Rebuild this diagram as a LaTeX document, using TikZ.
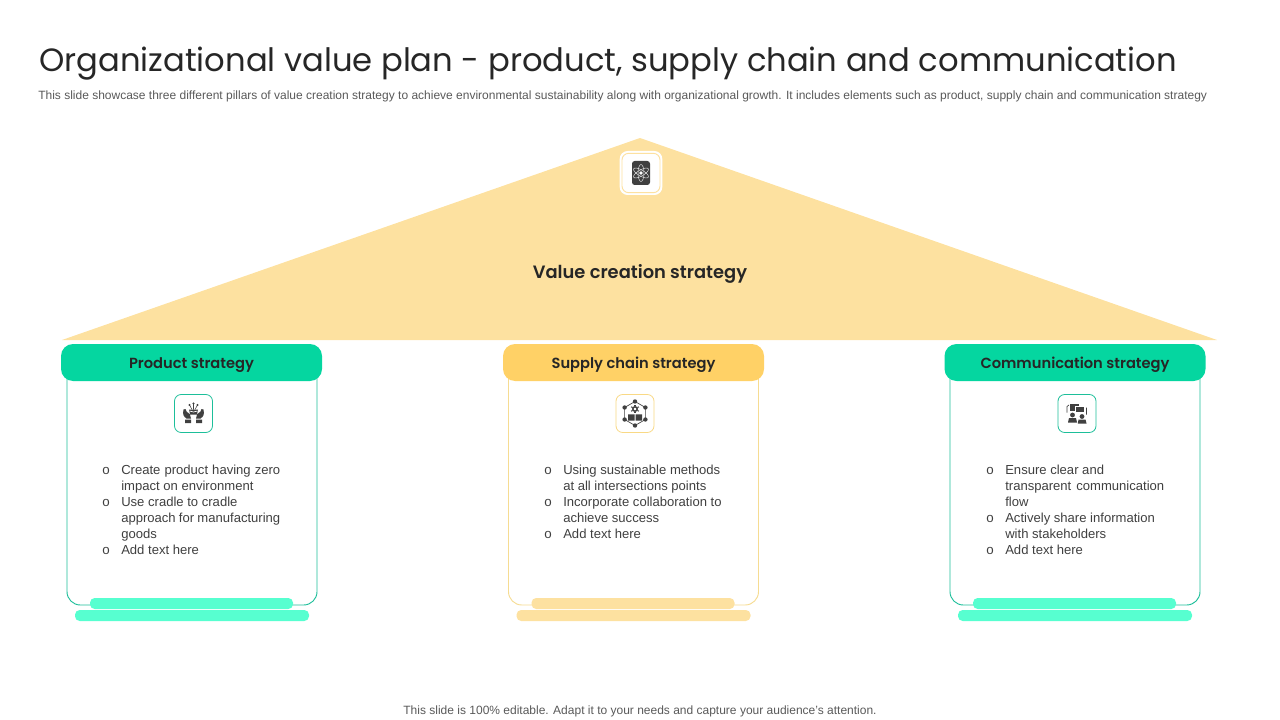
\documentclass[tikz,border=0pt]{standalone}
\usepackage{fontspec}
\setmainfont{Liberation Sans}
\newfontfamily\headfont{Poppins}
\newfontfamily\headsemi{Poppins SemiBold}
\usetikzlibrary{calc}
\definecolor{roofyellow}{HTML}{FDE1A0}
\definecolor{headgreen}{HTML}{05D6A0}
\definecolor{headyellow}{HTML}{FFD166}
\definecolor{barmint}{HTML}{57FFD0}
\definecolor{linegreen}{HTML}{1DBF9A}
\definecolor{lineyellow}{HTML}{F6DC92}
\definecolor{icongray}{HTML}{404040}
\definecolor{inkdark}{HTML}{262626}
\definecolor{inkgray}{HTML}{595959}
\newcommand{\fullline}[1]{\makebox[119.25pt][s]{#1}}
\tikzset{
  head/.style={rounded corners=9pt, minimum width=195.75pt, minimum height=27.75pt, inner sep=0pt},
  headtext/.style={inner sep=0pt, font=\headsemi\fontsize{11}{13}\selectfont, text=inkdark},
  card/.style={rounded corners=10pt, fill=white, line width=0.7pt},
  bar/.style={rounded corners=3.5pt},
  iconbox/.style={rounded corners=5pt, fill=white, line width=0.6pt, minimum width=28.5pt, minimum height=28.5pt, inner sep=0pt},
  points/.style={anchor=north west, inner sep=0pt, align=left, font=\fontsize{9.8}{12}\selectfont, text=icongray},
  dot/.style={anchor=base, inner sep=0pt, font=\fontsize{10}{12}\selectfont, text=icongray},
}
\begin{document}
\begin{tikzpicture}[x=0.75pt, y=-0.75pt]
\useasboundingbox (0,0) rectangle (1280,720);
% title
\node[anchor=base west, inner sep=0pt, text=inkdark, font=\headfont\fontsize{24.16}{30}\selectfont] (title) at (39,72) {Organizational value plan - product, supply chain and communication};
\node[anchor=base west, inner sep=0pt, text=inkgray, font=\fontsize{9}{10}\selectfont] (subtitle) at (38,100) {This slide showcase three different pillars of value creation strategy to achieve environmental sustainability along with organizational growth. It includes elements such as product, supply chain and communication strategy};
% roof
\fill[roofyellow] (62,340) -- (640,138) -- (1217,340) -- cycle;
\node[font=\headsemi\fontsize{13.4}{16}\selectfont, text=inkdark] (roof) at (640,274) {Value creation strategy};
\node[rounded corners=6pt, fill=white, minimum width=32pt, minimum height=33pt, inner sep=0pt] (atombox) at (641,173) {};
\node[rounded corners=5pt, draw=roofyellow, line width=0.7pt, minimum width=28.5pt, minimum height=29.5pt, inner sep=0pt] (atomline) at (641,173) {};
\node[rounded corners=2pt, fill=icongray, minimum width=13.5pt, minimum height=18pt, inner sep=0pt] (atom) at (641,173) {};
\foreach \ang in {30,90,150}
  \draw[white!85!icongray, line width=0.35pt, rotate around={\ang:(atom.center)}] (atom.center) ellipse (8.5 and 3);
\fill[white] (atom.center) circle (1.8);
% pillars
\foreach \px/\wx/\fillc/\linec/\barc/\nm/\lbl in {191.5/192/headgreen/linegreen/barmint/prodhead/Product strategy, 633.5/633.5/headyellow/lineyellow/roofyellow/supplyhead/Supply chain strategy, 1075/1075/headgreen/linegreen/barmint/commhead/Communication strategy}{
  \draw[card, draw=\linec] (\wx-125,360) rectangle (\wx+125,605);
  \fill[bar, \barc] (\wx-102,598) rectangle (\wx+101,609);
  \fill[bar, \barc] (\wx-117,610) rectangle (\wx+117,621);
  \node[head, fill=\fillc] (\nm) at (\px,362.5) {};
  \node[headtext] (\nm text) at (\px,365) {\lbl};
}
% icon boxes
\node[iconbox, draw=linegreen] (prodicon) at (193.5,413.5) {};
\node[iconbox, draw=lineyellow!70!headyellow] (supplyicon) at (635,413.5) {};
\node[iconbox, draw=linegreen] (commicon) at (1077,413.5) {};
% hands with a box
\begin{scope}[shift={(prodicon.center)}, icongray]
  \fill (-10,-4) .. controls (-11,1) and (-10,3) .. (-7,5) -- (-2.5,5) .. controls (-2.5,2) and (-4,-1) .. (-7,-2) -- (-8,-4.5) -- cycle;
  \fill (10,-4) .. controls (11,1) and (10,3) .. (7,5) -- (2.5,5) .. controls (2.5,2) and (4,-1) .. (7,-2) -- (8,-4.5) -- cycle;
  \fill (-8.5,6) rectangle (-2.5,9.5) (2.5,6) rectangle (8.5,9.5);
  \fill (-4.5,-4) -- (4.5,-4) -- (3.5,1) -- (-3.5,1) -- cycle;
  \draw[white, line width=0.5pt] (-4,-2.5) -- (0,-1.5) -- (4,-2.5);
  \draw[line width=0.4pt] (0,-4) -- (0,-10) (-1.5,-4) -- (-4,-8.5) (1.5,-4) -- (4,-8.5);
  \fill (0,-10) circle (1.2) (-4,-8.5) circle (1.2) (4,-8.5) circle (1.2);
\end{scope}
% network of boxes
\begin{scope}[shift={(supplyicon.center)}, icongray]
  \draw[line width=0.5pt] (30:12) -- (90:12) -- (150:12) -- (210:12) -- (270:12) -- (330:12) -- cycle;
  \foreach \ang in {30,90,...,330}
    \fill (\ang:12) circle (2.2);
  \draw[line width=1.1pt] (0,-4.5) circle (2.2);
  \foreach \ang in {30,90,...,330}
    \draw[line width=0.8pt] ($(0,-4.5)+(\ang:2.8)$) -- ($(0,-4.5)+(\ang:4.4)$);
  \fill (-7,0.8) rectangle (-0.5,7) (0.5,0.8) rectangle (7,7);
\end{scope}
% people with screens
\begin{scope}[shift={(commicon.center)}, icongray]
  \fill (-7,-10) rectangle (2,-3);
  \draw[white, line width=0.7pt, fill=icongray] (-2,-7) rectangle (7,-1);
  \fill (-4.5,1.5) circle (2.4) (5,3) circle (2.4);
  \fill (-9,9) -- (-8,4.5) -- (-1,4.5) -- (0,9) -- cycle;
  \fill (0.8,10) -- (1.5,6) -- (8.5,6) -- (9.5,10) -- cycle;
  \draw[line width=0.5pt] (-10,-1) -- (-10,-7) -- (-8,-8.5) (9.5,-6) -- (9.5,1);
\end{scope}
% bullet texts
\foreach \bx/\by/\dotnm in {106/474/a1, 106/506/a2, 106/554/a3, 548/474/b1, 548/506/b2, 548/538/b3, 990/474/c1, 990/522/c2, 990/554/c3}
  \node[dot] (\dotnm) at (\bx,\by) {o};
\node[points] (prodtext) at (121,464.5) {\fullline{Create product having zero}\\impact on environment\\Use cradle to cradle\\\fullline{approach for manufacturing}\\goods\\Add text here};
\node[points] (supplytext) at (563,464.5) {Using sustainable methods\\at all intersections points\\Incorporate collaboration to\\achieve success\\Add text here};
\node[points] (commtext) at (1005,464.5) {Ensure clear and\\\fullline{transparent communication}\\flow\\Actively share information\\with stakeholders\\Add text here};
% footer
\node[anchor=base, inner sep=0pt, text=inkgray, font=\fontsize{9}{11}\selectfont] (footer) at (640,714) {This slide is 100\% editable. Adapt it to your needs and capture your audience's attention.};
\end{tikzpicture}
\end{document}
